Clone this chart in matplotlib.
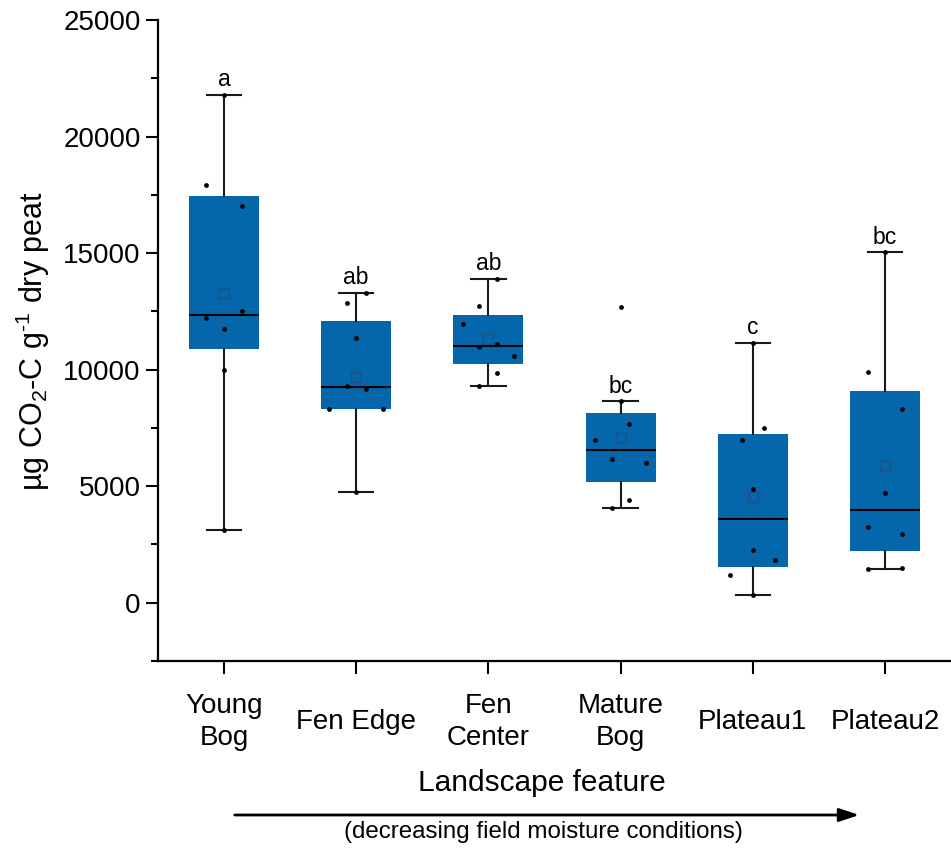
import matplotlib
matplotlib.use("Agg")
import matplotlib.pyplot as plt
import numpy as np
from matplotlib.ticker import MultipleLocator

plt.rcParams['font.family'] = ['Liberation Sans', 'DejaVu Sans']
plt.rcParams['mathtext.fontset'] = 'custom'
plt.rcParams['mathtext.rm'] = 'Liberation Sans'
plt.rcParams['mathtext.default'] = 'regular'

# respiration per site (ug CO2-C per g dry peat)
sites = ["Young\nBog", "Fen Edge", "Fen\nCenter", "Mature\nBog", "Plateau1", "Plateau2"]
young_bog = [21800, 17900, 17000, 12500, 12200, 11750, 10000, 3100]
fen_edge = [13300, 12850, 11350, 9300, 9170, 8300, 8300, 4750]
fen_center = [13900, 12750, 11950, 11100, 10950, 10600, 9850, 9300]
mature_bog = [12700, 8650, 7650, 6975, 6150, 6000, 4400, 4050]
plateau1 = [11150, 7500, 7000, 4900, 2250, 1850, 1200, 350]
plateau2 = [15050, 9900, 8300, 4700, 3250, 2950, 1500, 1450]
letters = ["a", "ab", "ab", "bc", "c", "bc"]

# horizontal spread of the raw points inside each box
jitter = [
    [0, -0.14, 0.135, 0.135, -0.14, 0, 0, 0],
    [0.07, -0.067, 0, -0.067, 0.07, -0.205, 0.2, 0],
    [0.063, -0.068, -0.19, 0.063, -0.068, 0.19, 0.063, -0.068],
    [0, 0, 0.063, -0.19, -0.065, 0.19, 0.063, -0.065],
    [0, 0.085, -0.085, 0, 0, 0.17, -0.17, 0],
    [0, -0.126, 0.128, 0, -0.126, 0.128, 0.128, -0.126],
]

groups = [young_bog, fen_edge, fen_center, mature_bog, plateau1, plateau2]
BLUE = '#0567ab'


def box_stats(vals):
    v = np.asarray(vals, dtype=float)
    q1, med, q3 = np.percentile(v, [25, 50, 75], method='hazen')
    iqr = q3 - q1
    inside = v[(v >= q1 - 1.5 * iqr) & (v <= q3 + 1.5 * iqr)]
    return dict(med=med, q1=q1, q3=q3, mean=v.mean(),
                whislo=inside.min(), whishi=inside.max(), fliers=[])


stats = [box_stats(g) for g in groups]
pos = np.arange(1, len(groups) + 1)

fig = plt.figure(figsize=(9.51, 8.49), dpi=100)
ax = fig.add_axes([158 / 951, 1 - 661 / 849, 1 - 158 / 951, (661 - 20) / 849])

ax.bxp(stats, positions=pos, widths=0.53, capwidths=0.26,
       patch_artist=True, showmeans=True, showfliers=False,
       boxprops=dict(facecolor=BLUE, edgecolor=BLUE, linewidth=0),
       medianprops=dict(color='black', linewidth=1.5),
       whiskerprops=dict(color='#1a1a1a', linewidth=1.5),
       capprops=dict(color='#1a1a1a', linewidth=1.5),
       meanprops=dict(marker='s', markerfacecolor='none',
                      markeredgecolor='#1d4f80', markersize=7, markeredgewidth=1))

for p, g, off in zip(pos, groups, jitter):
    ax.scatter(p + np.asarray(off), g, s=12, color='black', zorder=5, linewidths=0)

for p, st, lab in zip(pos, stats, letters):
    ax.annotate(lab, (p, st['whishi']), xytext=(0, 6), textcoords='offset points',
                ha='center', va='baseline', fontsize=16.5)

ax.set_xlim(0.5, 6.5)
ax.set_ylim(-2500, 25000)
ax.set_yticks(np.arange(0, 25001, 5000))
ax.yaxis.set_minor_locator(MultipleLocator(2500))
ax.set_xticks(pos)
ax.set_xticklabels(sites)

for side in ['top', 'right']:
    ax.spines[side].set_visible(False)
for side in ['left', 'bottom']:
    ax.spines[side].set_linewidth(1.6)

ax.tick_params(axis='both', which='major', direction='out', length=9, width=1.5, labelsize=20)
ax.tick_params(axis='y', which='minor', direction='out', length=5, width=1.5)
ax.tick_params(axis='x', pad=35)
for t in ax.get_xticklabels():
    t.set_va('center')
    t.set_linespacing(1.32)

ax.set_ylabel(r'µg CO$_2$-C g$^{\text{-}1}$ dry peat', fontsize=22, labelpad=8)

fig.text(542 / 951, 1 - 783 / 849, 'Landscape feature', ha='center', va='center', fontsize=21.5)
fig.text(543 / 951, 1 - 832 / 849, '(decreasing field moisture conditions)',
         ha='center', va='center', fontsize=17.4)
fig.add_artist(matplotlib.patches.FancyArrowPatch(
    (232 / 951, 1 - 815 / 849), (862 / 951, 1 - 815 / 849), transform=fig.transFigure,
    arrowstyle='-|>,head_length=12,head_width=4', mutation_scale=1,
    color='black', linewidth=2))

fig.savefig('out.png', dpi=100)
